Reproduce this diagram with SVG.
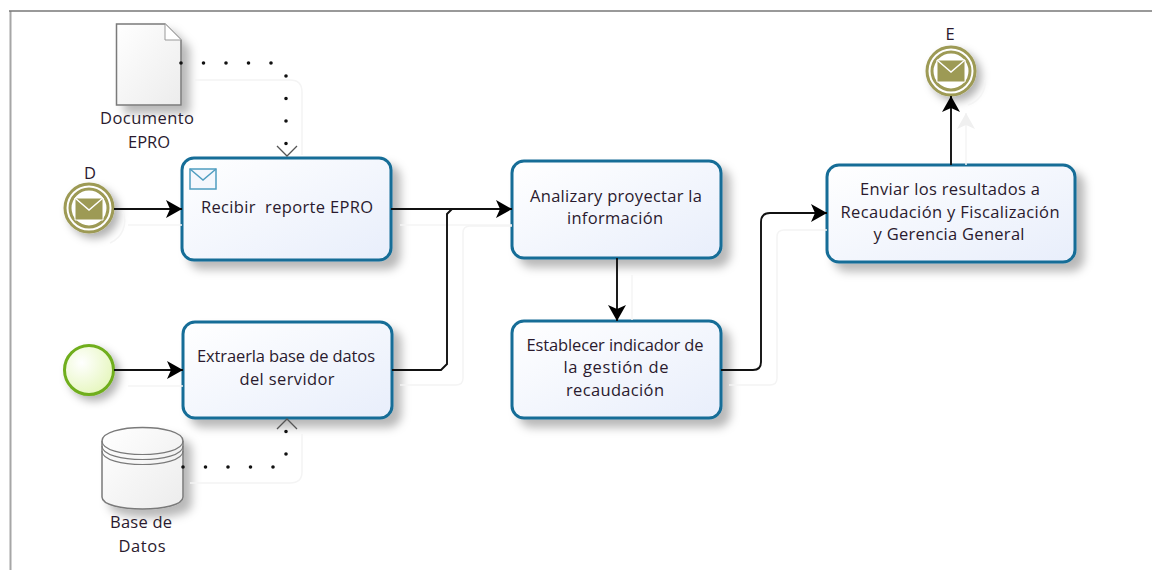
<svg xmlns="http://www.w3.org/2000/svg" width="1152" height="570" viewBox="0 0 1152 570">
<style>
text{font-family:"Open Sans","Noto Sans","DejaVu Sans",sans-serif;font-size:16.5px;fill:#2a1a2e;text-anchor:middle;white-space:pre}
.task{fill:url(#taskFill);stroke:#156d97;stroke-width:3;filter:url(#shadow)}
.flow{fill:none;stroke:#111;stroke-width:1.900}
.ghost{fill:none;stroke:#f4f4f4;stroke-width:1.500}
.dots{fill:none;stroke:#111;stroke-width:3.600;stroke-linecap:round;stroke-dasharray:0 22.500}
.chev{fill:none;stroke:#555;stroke-width:1.300}
.data{fill:url(#dataFill);stroke:#7a7a7a;stroke-width:1.500;filter:url(#shadow)}
.msg{fill:#9d9a55;stroke:#fff;stroke-width:1}
</style>
<defs>
<linearGradient id="taskFill" x1="0" y1="0" x2="1" y2="1"><stop offset="0" stop-color="#fff"/><stop offset="1" stop-color="#e8eefb"/></linearGradient>
<linearGradient id="dataFill" x1="0" y1="0" x2="1" y2="1"><stop offset="0" stop-color="#fff"/><stop offset="1" stop-color="#ececec"/></linearGradient>
<radialGradient id="startFill" cx=".35" cy=".35" r=".8"><stop offset="0" stop-color="#fff"/><stop offset="1" stop-color="#e2f5b4"/></radialGradient>
<filter id="shadow" x="-20%" y="-20%" width="150%" height="150%"><feDropShadow dx="8" dy="8" stdDeviation="5" flood-color="#000" flood-opacity=".28"/></filter>
<filter id="shadow2" x="-40%" y="-40%" width="200%" height="200%"><feDropShadow dx="5" dy="5" stdDeviation="4" flood-color="#000" flood-opacity=".3"/></filter>
<marker id="arrow" markerUnits="userSpaceOnUse" markerWidth="20" markerHeight="20" refX="16" refY="9" orient="auto"><path d="M0 0L16 9L0 18L4 9Z" fill="#000"/></marker>
<marker id="ghostArrow" markerUnits="userSpaceOnUse" markerWidth="20" markerHeight="20" refX="16" refY="9" orient="auto"><path d="M0 0L16 9L0 18L4 9Z" fill="#f0f0f0"/></marker>
</defs>
<rect width="1152" height="570" fill="#fff"/>
<path d="M10.500 570V11" fill="none" stroke="#a6a6a6" stroke-width="2"/>
<path d="M9 11H1152" fill="none" stroke="#777" stroke-width="1.500"/>
<g id="doc">
<path class="data" d="M116.500 24H165L181 40V105H116.500Z"/>
<path d="M165 24V40H181" fill="#fff" stroke="#999" stroke-width="1"/>
<text x="147" y="124" textLength="94">Documento</text><text x="149" y="148" textLength="42">EPRO</text>
</g>
<g id="event-d">
<circle cx="89" cy="208" r="24" fill="#fff" stroke="#9d9a55" stroke-width="3" filter="url(#shadow2)"/>
<circle cx="89" cy="208" r="19" fill="#fff" stroke="#9d9a55" stroke-width="3"/>
<path class="msg" d="M75 198H103V220H75Z"/><path d="M75 198L89 210L103 198" fill="none" stroke="#fff" stroke-width="1.500"/>
<text x="90" y="179">D</text>
</g>
<g id="task-recibir">
<rect class="task" x="182" y="158" width="209" height="102" rx="12"/>
<rect x="190" y="169" width="26" height="20" fill="#f4f7fd" stroke="#4f9dc0" stroke-width="1.500"/>
<path d="M190 169L203 180L216 169" fill="none" stroke="#4f9dc0" stroke-width="1.500"/>
<text x="287" y="213" textLength="172">Recibir  reporte EPRO</text>
</g>
<g id="start">
<circle cx="89" cy="370" r="24.500" fill="url(#startFill)" stroke="#6fae1e" stroke-width="3" filter="url(#shadow2)"/>
</g>
<g id="task-extraer">
<rect class="task" x="183" y="322" width="209" height="96" rx="12"/>
<text x="286" y="362" textLength="178">Extraerla base de datos</text><text x="287" y="385" textLength="95">del servidor</text>
</g>
<g id="database">
<path class="data" d="M102 441C102 423 183 423 183 441V497C183 513 102 513 102 497Z"/>
<path d="M102 441C102 459 183 459 183 441M102 446C102 464 183 464 183 446M102 451C102 469 183 469 183 451" fill="none" stroke="#7a7a7a" stroke-width="1.200"/>
<text x="141" y="528" textLength="62">Base de</text><text x="142" y="552" textLength="47">Datos</text>
</g>
<g id="task-analizar">
<rect class="task" x="512" y="161" width="209" height="97" rx="12"/>
<text x="616" y="202" textLength="172">Analizary proyectar la</text><text x="615" y="224" textLength="96">información</text>
</g>
<g id="task-establecer">
<rect class="task" x="512" y="321" width="209" height="97" rx="12"/>
<text x="615" y="351" textLength="177">Establecer indicador de</text><text x="616" y="373" textLength="105">la gestión de</text><text x="615" y="396" textLength="98">recaudación</text>
</g>
<g id="task-enviar">
<rect class="task" x="827" y="165" width="248" height="97" rx="12"/>
<text x="950" y="195" textLength="180">Enviar los resultados a</text><text x="950" y="218" textLength="219">Recaudación y Fiscalización</text><text x="949" y="240" textLength="151">y Gerencia General</text>
</g>
<g id="event-e">
<circle cx="951" cy="71" r="24" fill="#fff" stroke="#9d9a55" stroke-width="3" filter="url(#shadow2)"/>
<circle cx="951" cy="71" r="19" fill="#fff" stroke="#9d9a55" stroke-width="3"/>
<path class="msg" d="M937 60H965V82H937Z"/><path d="M937 60L951 72L965 60" fill="none" stroke="#fff" stroke-width="1.500"/>
<text x="950" y="40">E</text>
</g>
<g id="connectors">
<path class="ghost" d="M195 80H290Q302 80 302 92V155"/>
<path class="ghost" d="M128 225H182"/>
<path class="ghost" d="M128 386H183"/>
<path class="ghost" d="M400 225H512"/>
<path class="ghost" d="M400 385H456Q463 385 463 378V233Q463 226 470 226H512"/>
<path class="ghost" d="M632 275V320"/>
<path class="ghost" d="M729 385H770Q777 385 777 378V237Q777 230 784 230H827"/>
<path class="ghost" d="M966 165V113" marker-end="url(#ghostArrow)"/>
<path class="ghost" d="M190 483H290Q302 483 302 472V434"/>
<path class="ghost" d="M110 243A24 24 0 0 0 123 212"/>
<path class="ghost" d="M985 80A24 24 0 0 1 968 105"/>
<path class="flow" d="M114 209H182" marker-end="url(#arrow)"/>
<path class="flow" d="M114 370H183" marker-end="url(#arrow)"/>
<path class="flow" d="M391 209H512" marker-end="url(#arrow)"/>
<path class="flow" d="M392 370H441L447 364V214L452 209"/>
<path class="flow" d="M617 258V321" marker-end="url(#arrow)"/>
<path class="flow" d="M721 370H753Q761 370 761 362V222Q761 213 770 213H827" marker-end="url(#arrow)"/>
<path class="flow" d="M951 165V96" marker-end="url(#arrow)"/>
<path class="dots" d="M181 63H272.500M286 76V146"/>
<path class="chev" d="M277 146L287 156L297 146"/>
<path class="dots" d="M183 467H275M286 454V430"/>
<path class="chev" d="M277 429L287 419L297 429"/>
</g>
</svg>
